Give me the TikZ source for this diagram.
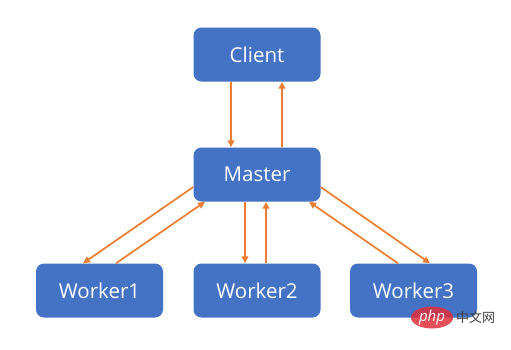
\documentclass[tikz,border=0pt]{standalone}
\usepackage{fontspec}
\setmainfont{Open Sans}
\newfontfamily\cjkfont{Noto Sans CJK SC}
\usetikzlibrary{arrows.meta,calc,shapes.geometric}
\definecolor{boxblue}{HTML}{4472C4}
\definecolor{arrorange}{HTML}{ED7D31}
\definecolor{wmred}{HTML}{E0303C}
\tikzset{
  box/.style={draw=none, fill=boxblue, rounded corners=8pt, minimum width=127pt, minimum height=54pt, text=white, font=\fontsize{20.5}{24}\selectfont, inner sep=0pt},
  conn/.style={draw=arrorange, line width=1.7pt, -{Triangle[length=7pt,width=6.5pt]}}
}
\begin{document}
\begin{tikzpicture}[x=1pt,y=-1pt]
\useasboundingbox (0,0) rectangle (511,349);
\node[box] (client) at (257,54.5) {Client};
\node[box] (master) at (257,174.5) {Master};
\node[box] (w1) at (99.5,290.5) {Worker1};
\node[box] (w2) at (257,290.5) {Worker2};
\node[box] (w3) at (413.5,290.5) {Worker3};
% client <-> master
\draw[conn] ($(client.south)+(-26,0)$) -- ($(master.north)+(-26,0)$);
\draw[conn] ($(master.north)+(25,0)$) -- ($(client.south)+(25,0)$);
% master <-> worker1
\draw[conn] ($(master.west)+(0,12.5)$) -- ($(w1.north)+(-16.5,0)$);
\draw[conn] ($(w1.north)+(16.5,0)$) -- ($(master.south)+(-52,0)$);
% master <-> worker2
\draw[conn] ($(master.south)+(-12,0)$) -- ($(w2.north)+(-12,0)$);
\draw[conn] ($(w2.north)+(9,0)$) -- ($(master.south)+(9,0)$);
% master <-> worker3
\draw[conn] ($(master.east)+(0,12.5)$) -- ($(w3.north)+(16.5,0)$);
\draw[conn] ($(w3.north)+(-15.5,0)$) -- ($(master.south)+(52,0)$);
% watermark
\node[ellipse, fill=wmred, fill opacity=0.85, text opacity=1, minimum width=42pt, minimum height=22pt, inner sep=0pt, text=white, font=\itshape\fontsize{15}{16}\selectfont] (wm) at (432,317.5) {php};
\node[anchor=west, text=black!75, font=\cjkfont\fontsize{13}{14}\selectfont, inner sep=0pt] (wmtext) at (456,317.5) {中文网};
\end{tikzpicture}
\end{document}
